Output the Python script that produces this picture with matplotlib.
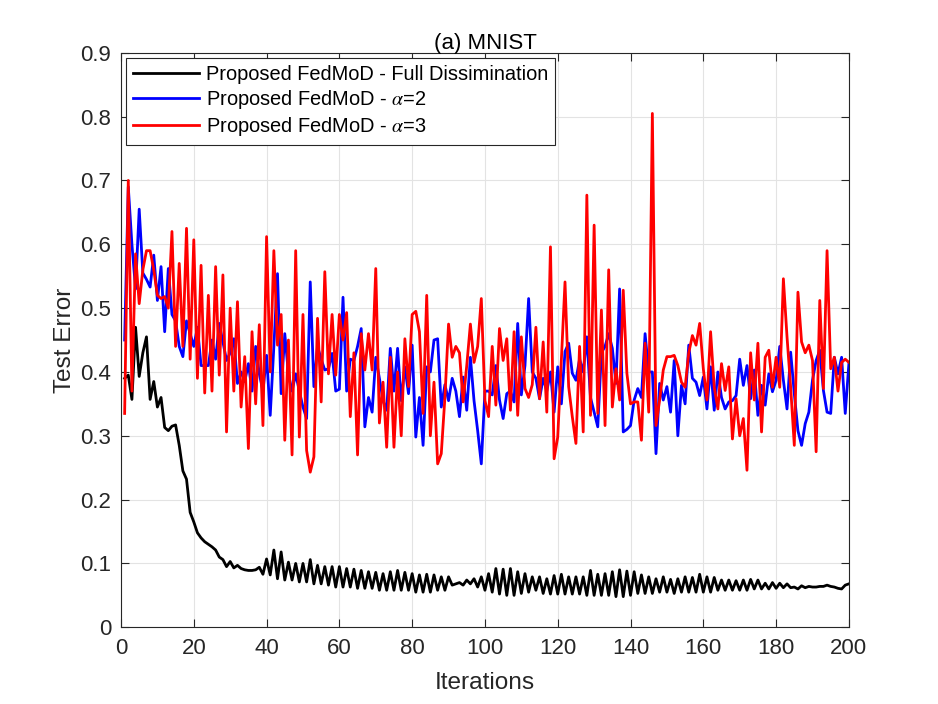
import matplotlib
matplotlib.use("Agg")
import matplotlib.pyplot as plt
from matplotlib.ticker import FuncFormatter, MultipleLocator

plt.rcParams['font.family'] = ['Liberation Sans', 'DejaVu Sans']
plt.rcParams['mathtext.fontset'] = 'stix'

iterations = list(range(1, 201))

full_dissemination = [
    0.390, 0.395, 0.357, 0.470, 0.393, 0.430, 0.455, 0.357, 0.385, 0.345,
    0.360, 0.313, 0.308, 0.315, 0.317, 0.285, 0.245, 0.232, 0.180, 0.165,
    0.148, 0.140, 0.134, 0.130, 0.126, 0.121, 0.110, 0.106, 0.095, 0.103,
    0.093, 0.097, 0.092, 0.090, 0.089, 0.089, 0.090, 0.094, 0.083, 0.107,
    0.082, 0.121, 0.076, 0.118, 0.074, 0.102, 0.074, 0.100, 0.071, 0.100,
    0.071, 0.106, 0.068, 0.097, 0.068, 0.095, 0.066, 0.095, 0.063, 0.095,
    0.063, 0.092, 0.063, 0.091, 0.061, 0.089, 0.061, 0.087, 0.061, 0.086,
    0.058, 0.084, 0.058, 0.087, 0.058, 0.089, 0.058, 0.086, 0.058, 0.084,
    0.055, 0.082, 0.055, 0.083, 0.055, 0.082, 0.058, 0.079, 0.058, 0.079,
    0.066, 0.068, 0.070, 0.066, 0.074, 0.068, 0.076, 0.063, 0.079, 0.058,
    0.084, 0.055, 0.092, 0.052, 0.091, 0.050, 0.092, 0.050, 0.087, 0.053,
    0.084, 0.055, 0.079, 0.058, 0.079, 0.053, 0.076, 0.052, 0.081, 0.052,
    0.083, 0.052, 0.079, 0.052, 0.079, 0.052, 0.079, 0.050, 0.089, 0.050,
    0.083, 0.050, 0.084, 0.050, 0.087, 0.048, 0.090, 0.048, 0.088, 0.050,
    0.087, 0.053, 0.082, 0.053, 0.079, 0.053, 0.076, 0.055, 0.079, 0.055,
    0.075, 0.053, 0.076, 0.055, 0.079, 0.055, 0.078, 0.055, 0.083, 0.055,
    0.079, 0.055, 0.078, 0.058, 0.074, 0.058, 0.074, 0.058, 0.073, 0.058,
    0.074, 0.058, 0.075, 0.060, 0.074, 0.060, 0.069, 0.060, 0.070, 0.061,
    0.069, 0.062, 0.068, 0.062, 0.063, 0.060, 0.065, 0.062, 0.064, 0.063,
    0.063, 0.064, 0.064, 0.066, 0.064, 0.063, 0.061, 0.060, 0.066, 0.068,
]

alpha2 = [
    0.450, 0.690, 0.600, 0.530, 0.655, 0.555, 0.545, 0.533, 0.583, 0.512,
    0.565, 0.463, 0.562, 0.490, 0.480, 0.440, 0.424, 0.480, 0.460, 0.440,
    0.470, 0.410, 0.410, 0.410, 0.450, 0.420, 0.476, 0.447, 0.418, 0.430,
    0.452, 0.382, 0.400, 0.385, 0.413, 0.370, 0.440, 0.397, 0.370, 0.426,
    0.332, 0.440, 0.554, 0.366, 0.460, 0.397, 0.370, 0.397, 0.370, 0.345,
    0.327, 0.541, 0.377, 0.440, 0.420, 0.403, 0.405, 0.429, 0.370, 0.373,
    0.517, 0.370, 0.420, 0.418, 0.440, 0.468, 0.314, 0.360, 0.337, 0.423,
    0.390, 0.355, 0.340, 0.437, 0.370, 0.437, 0.355, 0.408, 0.366, 0.442,
    0.298, 0.360, 0.285, 0.408, 0.400, 0.450, 0.452, 0.345, 0.380, 0.355,
    0.390, 0.370, 0.330, 0.392, 0.340, 0.423, 0.355, 0.308, 0.256, 0.370,
    0.370, 0.364, 0.410, 0.356, 0.327, 0.366, 0.370, 0.353, 0.476, 0.364,
    0.410, 0.515, 0.400, 0.390, 0.358, 0.390, 0.370, 0.400, 0.337, 0.408,
    0.350, 0.432, 0.445, 0.398, 0.387, 0.420, 0.400, 0.455, 0.360, 0.337,
    0.314, 0.430, 0.440, 0.460, 0.437, 0.382, 0.530, 0.306, 0.310, 0.316,
    0.356, 0.374, 0.360, 0.460, 0.400, 0.400, 0.272, 0.382, 0.356, 0.377,
    0.337, 0.418, 0.300, 0.379, 0.350, 0.442, 0.390, 0.384, 0.363, 0.392,
    0.342, 0.408, 0.340, 0.400, 0.360, 0.342, 0.353, 0.355, 0.363, 0.420,
    0.379, 0.410, 0.358, 0.403, 0.332, 0.379, 0.348, 0.397, 0.369, 0.387,
    0.440, 0.387, 0.342, 0.431, 0.366, 0.308, 0.285, 0.319, 0.337, 0.387,
    0.418, 0.434, 0.371, 0.337, 0.335, 0.423, 0.397, 0.423, 0.335, 0.413,
]

alpha3 = [
    0.335, 0.700, 0.370, 0.585, 0.507, 0.560, 0.590, 0.590, 0.560, 0.520,
    0.515, 0.518, 0.500, 0.620, 0.440, 0.570, 0.440, 0.625, 0.420, 0.607,
    0.390, 0.567, 0.367, 0.520, 0.370, 0.565, 0.395, 0.552, 0.306, 0.500,
    0.370, 0.510, 0.345, 0.424, 0.280, 0.463, 0.350, 0.474, 0.316, 0.612,
    0.400, 0.590, 0.442, 0.490, 0.293, 0.450, 0.270, 0.590, 0.298, 0.490,
    0.277, 0.243, 0.267, 0.484, 0.353, 0.557, 0.397, 0.490, 0.395, 0.490,
    0.450, 0.493, 0.330, 0.430, 0.270, 0.460, 0.403, 0.460, 0.403, 0.562,
    0.320, 0.384, 0.282, 0.423, 0.282, 0.400, 0.300, 0.452, 0.377, 0.490,
    0.495, 0.463, 0.335, 0.520, 0.300, 0.384, 0.256, 0.272, 0.360, 0.475,
    0.423, 0.440, 0.430, 0.353, 0.410, 0.475, 0.415, 0.440, 0.515, 0.355,
    0.330, 0.440, 0.348, 0.468, 0.418, 0.452, 0.340, 0.463, 0.332, 0.455,
    0.374, 0.360, 0.380, 0.470, 0.358, 0.447, 0.337, 0.596, 0.264, 0.298,
    0.420, 0.541, 0.377, 0.330, 0.288, 0.440, 0.306, 0.677, 0.332, 0.630,
    0.335, 0.497, 0.316, 0.560, 0.345, 0.405, 0.356, 0.528, 0.398, 0.350,
    0.353, 0.353, 0.293, 0.445, 0.337, 0.805, 0.316, 0.356, 0.403, 0.424,
    0.424, 0.426, 0.410, 0.384, 0.376, 0.430, 0.457, 0.442, 0.476, 0.405,
    0.356, 0.463, 0.376, 0.342, 0.413, 0.371, 0.408, 0.295, 0.358, 0.300,
    0.327, 0.246, 0.430, 0.356, 0.445, 0.306, 0.423, 0.434, 0.376, 0.423,
    0.376, 0.546, 0.455, 0.376, 0.285, 0.525, 0.447, 0.430, 0.442, 0.418,
    0.275, 0.512, 0.374, 0.590, 0.405, 0.423, 0.370, 0.415, 0.420, 0.415,
]

labels = ['Proposed FedMoD - Full Dissimination',
          r'Proposed FedMoD - $\alpha$=2',
          r'Proposed FedMoD - $\alpha$=3']

fig = plt.figure(figsize=(9.38, 7.04), dpi=100)
ax = fig.add_axes([0.129, 0.109, 0.776, 0.816])

ax.plot(iterations, full_dissemination, color='black', lw=2.0, label=labels[0])
ax.plot(iterations, alpha2, color='#0000ff', lw=2.0, label=labels[1])
ax.plot(iterations, alpha3, color='#ff0000', lw=2.0, label=labels[2])

ax.set_xlim(0, 200)
ax.set_ylim(0, 0.9)
ax.xaxis.set_major_locator(MultipleLocator(20))
ax.yaxis.set_major_locator(MultipleLocator(0.1))
ax.yaxis.set_major_formatter(FuncFormatter(lambda v, p: f'{v:g}' if abs(v) > 1e-9 else '0'))

ax.grid(True, color='#e3e3e3', lw=0.8)
ax.set_axisbelow(True)
ax.tick_params(direction='in', top=True, right=True, length=6, width=0.8,
               labelsize=16, colors='#262626')
ax.tick_params(axis='y', pad=7)
ax.tick_params(axis='x', pad=8)
for s in ax.spines.values():
    s.set_color('#262626')
    s.set_linewidth(0.8)

ax.set_xlabel('Iterations', fontsize=17.6, color='#262626', labelpad=9)
ax.set_ylabel('Test Error', fontsize=17.6, color='#262626', labelpad=3)
ax.set_title('(a) MNIST', fontsize=16, color='black', pad=3)

leg = ax.legend(loc='upper left', fontsize=14.4, frameon=True, fancybox=False,
                borderaxespad=0.25, handlelength=3.3, borderpad=0.35,
                labelspacing=0.2, handletextpad=0.35)
leg.get_frame().set_edgecolor('#262626')
leg.get_frame().set_linewidth(0.8)
leg.get_frame().set_alpha(1)

fig.savefig('out.png', dpi=100)
